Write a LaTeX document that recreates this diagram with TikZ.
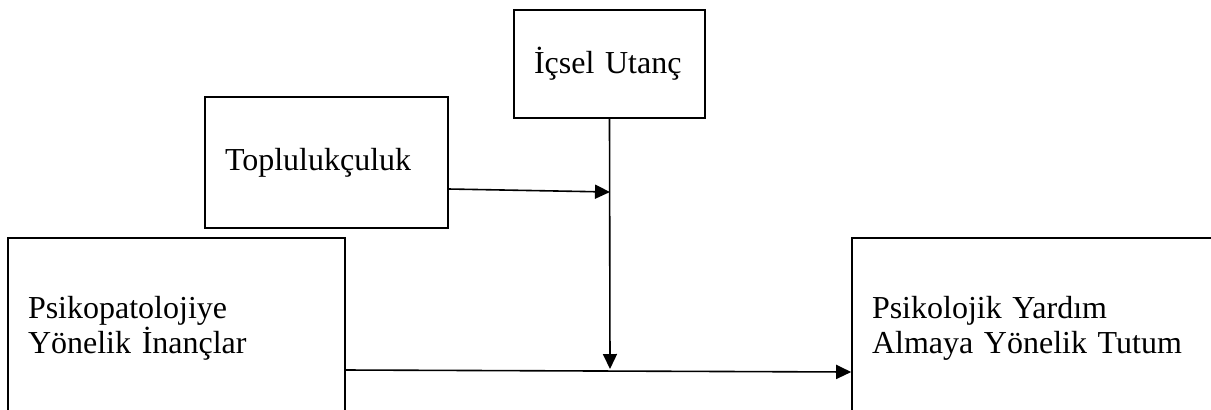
\documentclass[tikz,border=0pt]{standalone}
\usepackage{fontspec}
\setmainfont{Liberation Serif}
\usetikzlibrary{arrows.meta}

\begin{document}
\begin{tikzpicture}[
  x=0.5pt, y=-0.5pt,
  line width=0.8pt,
  font=\fontsize{16}{17.5}\selectfont,
  >={Triangle[length=7.5pt,width=7pt]},
  varbox/.style={
     rectangle,
     draw,
     inner xsep=10pt,
     inner ysep=0pt,
     align=left,
  },
]
   \useasboundingbox (0,0) rectangle (1211,409);
   \clip (0,0) rectangle (1211,409);
   \node[varbox,text width=75.5pt,minimum height=54pt] (utanc) at (609.5,64) {İçsel Utanç};
   \node[varbox,text width=101.5pt,minimum height=65.5pt] (toplu) at (326.5,162.5) {Toplulukçuluk};
   \node[varbox,text width=148.5pt,minimum height=90pt] (inanc) at (176.5,328) {Psikopatolojiye\\Yönelik İnançlar};
   \node[varbox,text width=169pt,minimum height=90pt] (tutum) at (1041,328) {Psikolojik Yardım\\Almaya Yönelik Tutum};
   \coordinate (mod1) at (610,192);
   \coordinate (mod2) at (610,369);
   \draw[->] ([yshift=-13.25pt]toplu.east) -- (mod1);
   \draw[->] (utanc.south) -- (mod2);
   \draw[->] ([yshift=-21pt]inanc.east) -- ([yshift=-22pt]tutum.west);
\end{tikzpicture}
\end{document}
